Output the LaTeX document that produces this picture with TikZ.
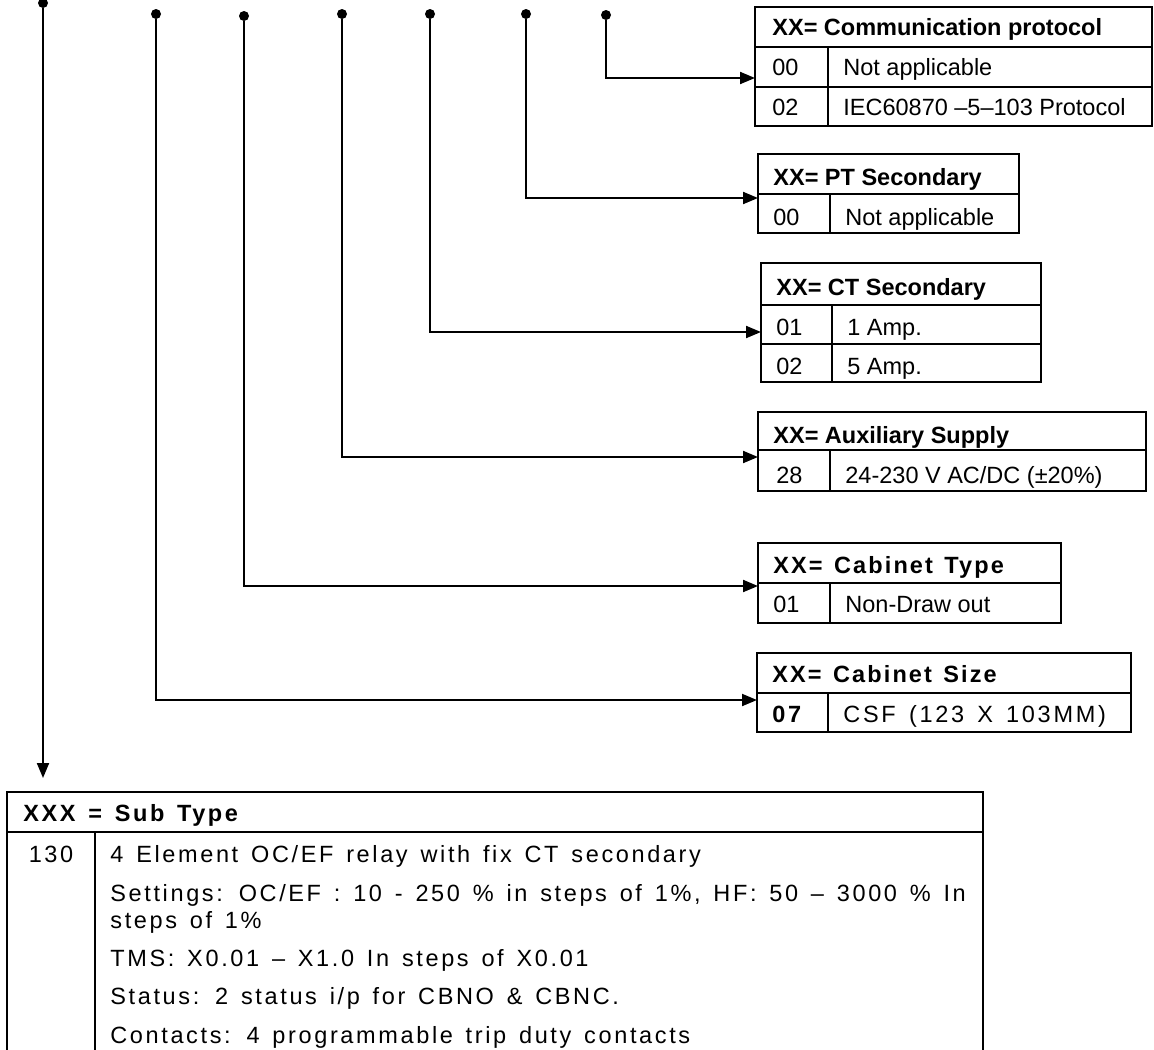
\documentclass[tikz,border=0pt]{standalone}
\usepackage{fontspec}
\setmainfont{Liberation Sans}
\newfontfamily\hdsp[LetterSpace=9,WordSpace=1.32]{Liberation Sans}
\newfontfamily\rowsp[LetterSpace=11.6,WordSpace=1.42]{Liberation Sans}
\newfontfamily\subhd[LetterSpace=11,WordSpace=1.4]{Liberation Sans}
\newfontfamily\subsp[LetterSpace=11.2,WordSpace=1.40]{Liberation Sans}
\usetikzlibrary{arrows.meta}
\begin{document}
\begin{tikzpicture}[x=0.5pt,y=-0.5pt,
  tbl/.style={line width=1.1pt, line cap=rect},
  conn/.style={line width=1pt, -{Triangle[length=7.5pt,width=6pt]}},
  dot/.style={circle, fill=black, inner sep=0pt, minimum size=5pt},
  txt/.style={inner sep=0pt, anchor=base west, font=\fontsize{11.75}{14}\selectfont},
  hdr/.style={inner sep=0pt, anchor=base west, font=\fontsize{11.75}{14}\selectfont\bfseries},
  shdr/.style={inner sep=0pt, anchor=base west, font=\fontsize{11.75}{14}\selectfont\hdsp\bfseries},
  srow/.style={inner sep=0pt, anchor=base west, font=\fontsize{11.75}{14}\selectfont\rowsp},
  sub/.style={inner sep=0pt, anchor=base west, font=\fontsize{11.75}{14}\selectfont\subsp}]
\useasboundingbox (0,0) rectangle (1154,1049);

% ---------- Communication protocol ----------
\draw[tbl] (755,7) rectangle (1152,126);
\draw[tbl] (755,47) -- (1152,47);
\draw[tbl] (755,87) -- (1152,87);
\draw[tbl] (828,47) -- (828,126);
\node[hdr] (commh) at (772,35) {XX= Communication protocol};
\node[txt] (comma) at (772,75) {00};
\node[txt] (commb) at (843,75) {Not applicable};
\node[txt] (commc) at (772,115) {02};
\node[txt] (commd) at (843,115) {IEC60870 –5–103 Protocol};
\coordinate (comm-in) at (755,78);

% ---------- PT Secondary ----------
\draw[tbl] (758,154) rectangle (1019,233);
\draw[tbl] (758,194) -- (1019,194);
\draw[tbl] (830,194) -- (830,233);
\node[hdr] (pth) at (773,185) {XX= PT Secondary};
\node[txt] (pta) at (773,225) {00};
\node[txt] (ptb) at (845,225) {Not applicable};
\coordinate (pt-in) at (758,198);

% ---------- CT Secondary ----------
\draw[tbl] (761,263) rectangle (1041,382);
\draw[tbl] (761,305) -- (1041,305);
\draw[tbl] (761,344) -- (1041,344);
\draw[tbl] (832,305) -- (832,382);
\node[hdr] (cth) at (776,295) {XX= CT Secondary};
\node[txt] (cta) at (776,335) {01};
\node[txt] (ctb) at (847,335) {1 Amp.};
\node[txt] (ctc) at (776,374) {02};
\node[txt] (ctd) at (847,374) {5 Amp.};
\coordinate (ct-in) at (761,332);

% ---------- Auxiliary Supply ----------
\draw[tbl] (758,412) rectangle (1146,491);
\draw[tbl] (758,450) -- (1146,450);
\draw[tbl] (830,450) -- (830,491);
\node[hdr] (auxh) at (773,443) {XX= Auxiliary Supply};
\node[txt] (auxa) at (776,483) {28};
\node[txt] (auxb) at (845,483) {24-230 V AC/DC (±20\%)};
\coordinate (aux-in) at (758,457);

% ---------- Cabinet Type ----------
\draw[tbl] (758,543) rectangle (1061,623);
\draw[tbl] (758,583) -- (1061,583);
\draw[tbl] (830,583) -- (830,623);
\node[shdr] (cth2) at (773,573) {XX= Cabinet Type};
\node[txt] (ctya) at (773,612) {01};
\node[txt] (ctyb) at (845,612) {Non-Draw out};
\coordinate (ctype-in) at (758,586);

% ---------- Cabinet Size ----------
\draw[tbl] (757,653) rectangle (1131,732);
\draw[tbl] (757,693) -- (1131,693);
\draw[tbl] (828,693) -- (828,732);
\node[shdr] (csh) at (772,682) {XX= Cabinet Size};
\node[srow] (csa) at (772,722) {\bfseries 07};
\node[srow] (csb) at (843,722) {CSF (123 X 103MM)};
\coordinate (csize-in) at (757,700);

% ---------- Sub Type ----------
\draw[tbl] (7,1060) -- (7,792) -- (983,792) -- (983,1060);
\draw[tbl] (7,832) -- (983,832);
\draw[tbl] (95,832) -- (95,1060);
\node[inner sep=0pt, anchor=base west, font=\fontsize{11.75}{14}\selectfont\subhd\bfseries] (subh) at (23,821) {XXX = Sub Type};
\node[inner sep=0pt, anchor=base, font=\fontsize{11.75}{14}\selectfont\subsp] (subc) at (51,862) {130};
\node[sub] (s1) at (110,862) {4 Element OC/EF relay with fix CT secondary};
\node[sub] (s2) at (110,901) {Settings: OC/EF : 10 - 250 \% in steps of 1\%, HF: 50 – 3000 \% In};
\node[sub] (s3) at (110,928) {steps of 1\%};
\node[sub] (s4) at (110,966) {TMS: X0.01 – X1.0 In steps of X0.01};
\node[sub] (s5) at (110,1004) {Status: 2 status i/p for CBNO \& CBNC.};
\node[sub] (s6) at (110,1043) {Contacts: 4 programmable trip duty contacts};
\coordinate (sub-in) at (43,778);

% ---------- dots and connectors ----------
\node[dot] (d1) at (43,3) {};
\node[dot] (d2) at (156,14) {};
\node[dot] (d3) at (244,16) {};
\node[dot] (d4) at (342,14) {};
\node[dot] (d5) at (430,14) {};
\node[dot] (d6) at (526,14) {};
\node[dot] (d7) at (606,15) {};

\draw[conn] (d1) -- (sub-in);
\draw[conn] (d2) |- (csize-in);
\draw[conn] (d3) |- (ctype-in);
\draw[conn] (d4) |- (aux-in);
\draw[conn] (d5) |- (ct-in);
\draw[conn] (d6) |- (pt-in);
\draw[conn] (d7) |- (comm-in);
\end{tikzpicture}
\end{document}
